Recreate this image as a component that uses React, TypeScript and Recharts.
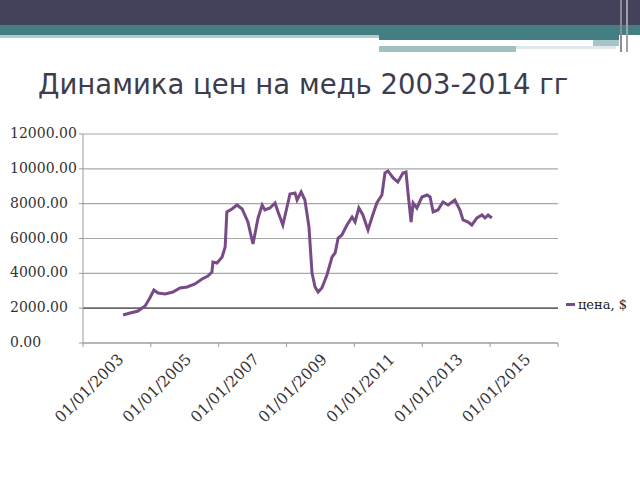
import React from "react"
import { LineChart, Line, XAxis, YAxis, CartesianGrid, Legend, ReferenceLine } from "recharts"

// time as decimal year, copper price in $
const years = [
  2004.18, 2004.39, 2004.62, 2004.83, 2004.97, 2005.09, 2005.21, 2005.42, 2005.65, 2005.86,
  2006.07, 2006.3, 2006.51, 2006.68, 2006.8, 2006.83, 2006.95, 2007.1, 2007.19, 2007.24,
  2007.39, 2007.54, 2007.69, 2007.86, 2008.01, 2008.16, 2008.28, 2008.36, 2008.51, 2008.66,
  2008.75, 2008.89, 2009.04, 2009.1, 2009.25, 2009.31, 2009.43, 2009.54, 2009.66, 2009.75,
  2009.84, 2009.93, 2010.04, 2010.19, 2010.34, 2010.43, 2010.52, 2010.63, 2010.78, 2010.93,
  2011.02, 2011.13, 2011.25, 2011.4, 2011.52, 2011.66, 2011.81, 2011.9, 2011.99, 2012.14,
  2012.28, 2012.43, 2012.52, 2012.58, 2012.67, 2012.73, 2012.84, 2012.99, 2013.14, 2013.23,
  2013.32, 2013.46, 2013.61, 2013.76, 2013.96, 2014.11, 2014.2, 2014.35, 2014.46, 2014.61,
  2014.76, 2014.85, 2014.94, 2015.05,
]
const prices = [
  1608, 1723, 1837, 2125, 2584, 3043, 2871, 2814, 2928, 3158,
  3216, 3388, 3675, 3847, 4077, 4651, 4594, 4938, 5512, 7522,
  7694, 7924, 7694, 6948, 5685, 7178, 7924, 7637, 7752, 8038,
  7522, 6776, 8038, 8556, 8613, 8211, 8671, 8211, 6661, 4019,
  3216, 2928, 3158, 3905, 4938, 5168, 6029, 6201, 6776, 7235,
  6948, 7752, 7350, 6489, 7235, 8038, 8498, 9761, 9876, 9474,
  9245, 9761, 9819, 8613, 6948, 8038, 7752, 8383, 8498, 8383,
  7522, 7637, 8096, 7924, 8211, 7637, 7063, 6948, 6776, 7178,
  7350, 7178, 7350, 7178,
]
const xTicks = [2003, 2005, 2007, 2009, 2011, 2013, 2015, 2017]
const yTicks = [0, 2000, 4000, 6000, 8000, 10000, 12000]
const seriesName = "цена, $"

const data = years.map((t, i) => ({ t, price: prices[i] }))

const serif = "'DejaVu Serif', 'Liberation Serif', serif"

function XTick(props: any) {
  const { x, payload } = props
  if (payload.value === 2017) return null
  // label centre sits a little right of the tick and ~46px below the axis
  const cx = x + 7
  const cy = 389
  return (
    <text x={cx} y={cy} transform={`rotate(-45, ${cx}, ${cy})`} textAnchor="middle"
      dominantBaseline="middle" fontFamily={serif} fontSize={15.5} fill="#333">
      {`01/01/${payload.value}`}
    </text>
  )
}

function YTick(props: any) {
  const { y, payload } = props
  return (
    <text x={10} y={y} textAnchor="start" dominantBaseline="middle"
      fontFamily={serif} fontSize={14} fill="#333">
      {payload.value.toFixed(2)}
    </text>
  )
}

function LegendBox() {
  return (
    <div style={{ display: "flex", alignItems: "center", fontFamily: serif, fontSize: 13, color: "#222" }}>
      <span style={{ display: "inline-block", width: 9, height: 3, background: "#774a88", marginRight: 3 }} />
      {seriesName}
    </div>
  )
}

export default function App() {
  return (
    <div style={{ position: "absolute", left: 0, top: 0, width: 640, height: 480, background: "#fff", overflow: "hidden" }}>
      <div style={{ position: "absolute", left: 0, top: 0, width: 640, height: 25, background: "#42425a" }} />
      <div style={{ position: "absolute", left: 0, top: 25, width: 640, height: 10, background: "#437f82" }} />
      <div style={{ position: "absolute", left: 0, top: 35, width: 379, height: 3, background: "#b3cbcd" }} />
      <div style={{ position: "absolute", left: 379, top: 35, width: 240, height: 5, background: "#437f82" }} />
      <div style={{ position: "absolute", left: 593, top: 40, width: 26, height: 6, background: "#a7c4c6" }} />
      <div style={{ position: "absolute", left: 379, top: 46, width: 137, height: 6, background: "#a2bfc2" }} />
      <div style={{ position: "absolute", left: 516, top: 46, width: 100, height: 3, background: "#dfe9ea" }} />
      <div style={{ position: "absolute", left: 620, top: 0, width: 2, height: 52, background: "#8a8a99" }} />
      <div style={{ position: "absolute", left: 626, top: 0, width: 2, height: 52, background: "#a0a0ad" }} />
      <div style={{
        position: "absolute", left: 38, top: 68, fontFamily: "'DejaVu Sans', Verdana, sans-serif",
        fontSize: 27.5, color: "#3d3d4d", whiteSpace: "nowrap",
      }}>
        Динамика цен на медь 2003-2014 гг
      </div>
      <div style={{ position: "absolute", left: 0, top: 0 }}>
        <LineChart width={640} height={480} data={data} margin={{ top: 134, right: 82, bottom: 77, left: 8 }}>
          <CartesianGrid vertical={false} stroke="#a8a8a8" strokeWidth={1.2} />
          <ReferenceLine y={2000} stroke="#4a4a4a" strokeWidth={1.2} />
          <XAxis dataKey="t" type="number" domain={[2003, 2017]} ticks={xTicks} height={60}
            tick={<XTick />} tickLine={{ stroke: "#999" }} tickSize={4} axisLine={{ stroke: "#999" }}
            interval={0} allowDataOverflow />
          <YAxis type="number" domain={[0, 12000]} ticks={yTicks} width={75}
            tick={<YTick />} tickLine={{ stroke: "#999" }} tickSize={4} axisLine={{ stroke: "#999" }}
            interval={0} />
          <Legend layout="horizontal" verticalAlign="middle" align="center" content={<LegendBox />}
            wrapperStyle={{ left: 566, top: 297, width: 80 }} />
          <Line type="linear" dataKey="price" name={seriesName} stroke="#774a88" strokeWidth={3}
            dot={false} isAnimationActive={false} />
        </LineChart>
      </div>
    </div>
  )
}
